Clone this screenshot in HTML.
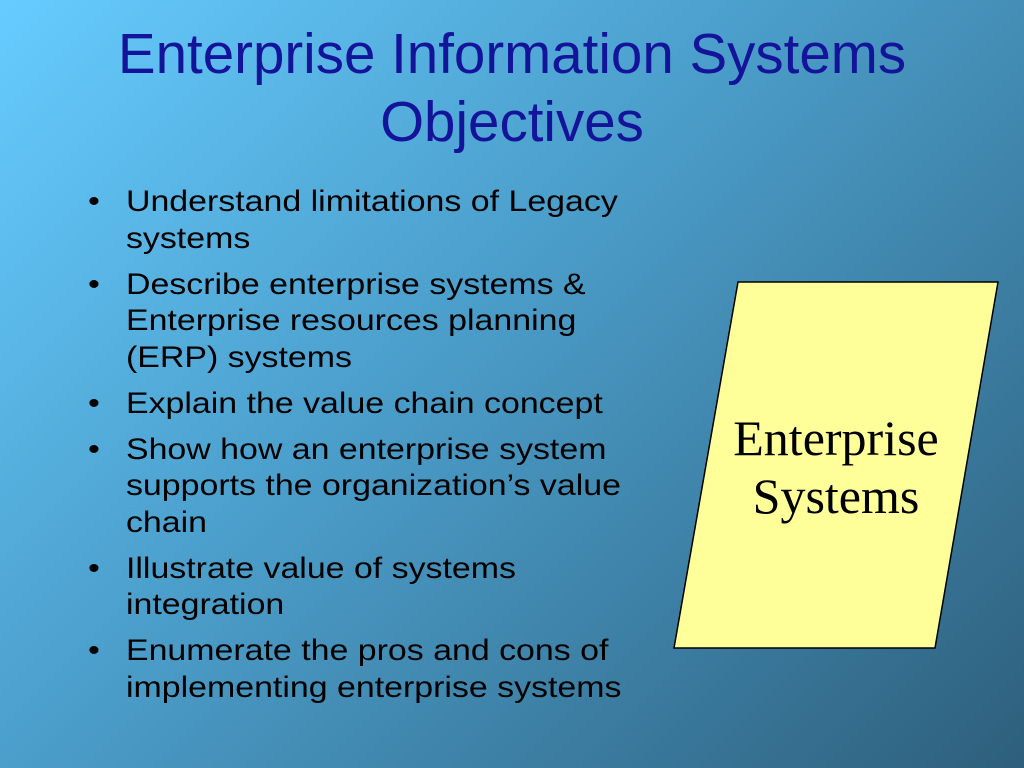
<!DOCTYPE html>
<html><head><meta charset="utf-8"><style>
html,body{margin:0;padding:0}
body{width:1024px;height:768px;overflow:hidden;position:relative;
background:linear-gradient(135deg,#66ccff 0%,#4a9cc8 45%,#2e5f7c 100%);
font-family:"Liberation Sans",sans-serif}
.title{position:absolute;left:0;width:1024px;top:20px;text-align:center;color:#14149a;font-size:56.5px;line-height:68px}
ul{position:absolute;left:88px;top:184px;margin:0;padding:0;list-style:none;width:560px;color:#000;font-size:30px;line-height:36.5px;transform:scaleX(1.13);transform-origin:0 0}
li{position:relative;padding-left:33.6px;margin-bottom:9.5px;white-space:nowrap}
li:before{content:"•";position:absolute;left:0;top:0;font-size:30px}
svg{position:absolute;left:0;top:0}
</style></head><body>
<div class="title">Enterprise Information Systems<br>Objectives</div>
<ul>
<li>Understand limitations of Legacy<br>systems</li>
<li>Describe enterprise systems &amp;<br>Enterprise resources planning<br>(ERP) systems</li>
<li>Explain the value chain concept</li>
<li>Show how an enterprise system<br>supports the organization’s value<br>chain</li>
<li>Illustrate value of systems<br>integration</li>
<li>Enumerate the pros and cons of<br>implementing enterprise systems</li>
</ul>
<svg width="1024" height="768">
<polygon points="738,282 998,282 935,648 674,648" fill="#ffff99" stroke="#000" stroke-width="1.5"/>
<text x="836" y="455" text-anchor="middle" font-family="Liberation Serif,serif" font-size="50">Enterprise</text>
<text x="836" y="513" text-anchor="middle" font-family="Liberation Serif,serif" font-size="50">Systems</text>
</svg>
</body></html>
